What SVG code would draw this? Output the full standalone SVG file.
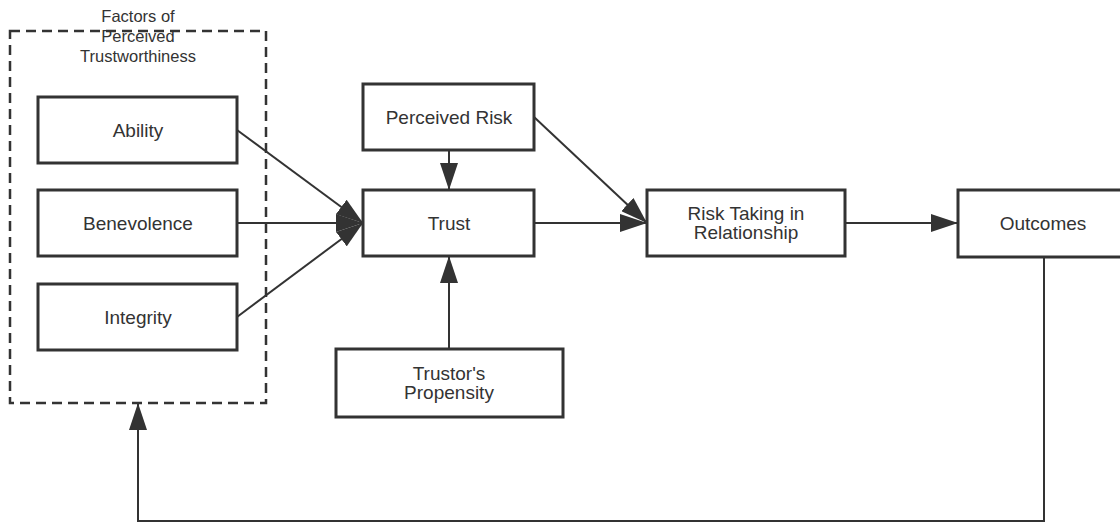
<svg xmlns="http://www.w3.org/2000/svg" width="1120" height="522" viewBox="0 0 1120 522">
  <style>
    .box { fill: #ffffff; stroke: #333333; stroke-width: 3; }
    .group { fill: none; stroke: #333333; stroke-width: 2.5; stroke-dasharray: 10 6; }
    .label { font-family: "Liberation Sans", Arial, sans-serif; font-size: 19px; fill: #333333; text-anchor: middle; }
    .title { font-family: "Liberation Sans", Arial, sans-serif; font-size: 16.5px; fill: #333333; text-anchor: middle; }
    .edge { fill: none; stroke: #333333; stroke-width: 2; }
  </style>
  <defs>
    <marker id="arrow" viewBox="0 0 27 18" refX="27" refY="9" markerWidth="27" markerHeight="18" markerUnits="userSpaceOnUse" orient="auto">
      <path d="M0,0 L27,9 L0,18 Z" fill="#333333"/>
    </marker>
  </defs>

  <rect width="1120" height="522" fill="#ffffff"/>

  <!-- dashed group: factors of perceived trustworthiness -->
  <g id="factors-group">
    <rect class="group" x="10" y="31" width="256" height="372"/>
    <text class="title" x="138" y="22">Factors of</text>
    <text class="title" x="138" y="42">Perceived</text>
    <text class="title" x="138" y="62">Trustworthiness</text>
  </g>

  <!-- connectors -->
  <g id="connectors">
    <path class="edge" d="M237,130 L363,223" marker-end="url(#arrow)"/>
    <path class="edge" d="M237,223 L363,223" marker-end="url(#arrow)"/>
    <path class="edge" d="M237,317 L363,223" marker-end="url(#arrow)"/>
    <path class="edge" d="M449,150 L449,190" marker-end="url(#arrow)"/>
    <path class="edge" d="M449,349 L449,256" marker-end="url(#arrow)"/>
    <path class="edge" d="M534,223 L647,223" marker-end="url(#arrow)"/>
    <path class="edge" d="M534,117 L647,223" marker-end="url(#arrow)"/>
    <path class="edge" d="M845,223 L958,223" marker-end="url(#arrow)"/>
    <path class="edge" d="M1044,257 L1044,521 L138,521 L138,403" marker-end="url(#arrow)"/>
  </g>

  <!-- nodes -->
  <g id="ability">
    <rect class="box" x="38" y="97" width="199" height="66"/>
    <text class="label" x="138" y="137">Ability</text>
  </g>
  <g id="benevolence">
    <rect class="box" x="38" y="190" width="199" height="66"/>
    <text class="label" x="138" y="230">Benevolence</text>
  </g>
  <g id="integrity">
    <rect class="box" x="38" y="284" width="199" height="66"/>
    <text class="label" x="138" y="324">Integrity</text>
  </g>
  <g id="perceived-risk">
    <rect class="box" x="363" y="84" width="171" height="66"/>
    <text class="label" x="449" y="124">Perceived Risk</text>
  </g>
  <g id="trust">
    <rect class="box" x="363" y="190" width="171" height="66"/>
    <text class="label" x="449" y="230">Trust</text>
  </g>
  <g id="trustors-propensity">
    <rect class="box" x="336" y="349" width="227" height="68"/>
    <text class="label" x="449" y="380">Trustor's</text>
    <text class="label" x="449" y="399">Propensity</text>
  </g>
  <g id="risk-taking">
    <rect class="box" x="647" y="190" width="198" height="66"/>
    <text class="label" x="746" y="220">Risk Taking in</text>
    <text class="label" x="746" y="239">Relationship</text>
  </g>
  <g id="outcomes">
    <rect class="box" x="958" y="190" width="170" height="67"/>
    <text class="label" x="1043" y="230">Outcomes</text>
  </g>
</svg>
